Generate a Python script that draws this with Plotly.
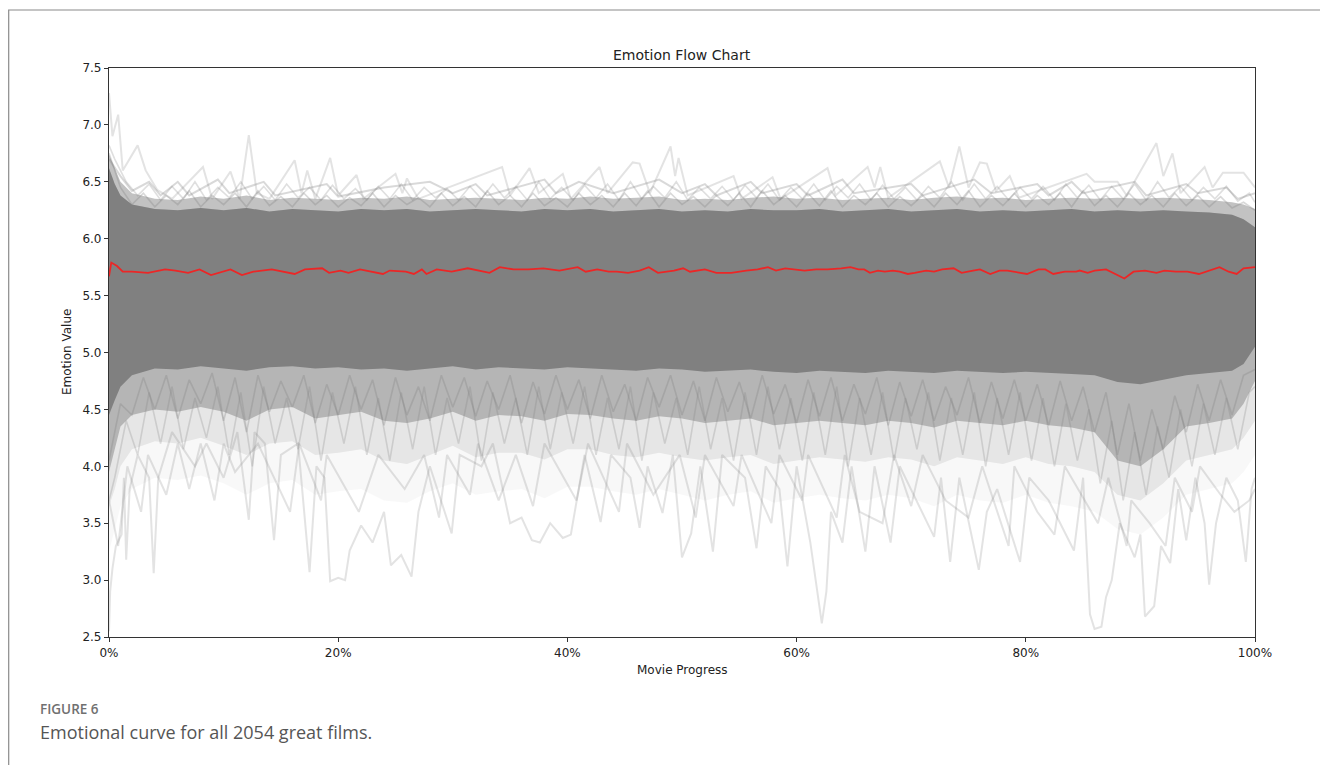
import plotly.graph_objects as go

# ---------------- data ----------------
env_x = [0, 0.5, 1, 2, 4, 6, 8, 10, 12, 14, 16, 18, 20, 22, 24, 26, 28, 30, 32, 34, 36, 38, 40,
         42, 44, 46, 48, 50, 52, 54, 56, 58, 60, 62, 64, 66, 68, 70, 72, 74, 76, 78, 80,
         82, 84, 86, 88, 90, 92, 94, 96, 98, 99, 100]

# solid core of the grey mass
up_core = [6.62, 6.48, 6.38,
           6.30, 6.26, 6.25, 6.27, 6.25, 6.27, 6.24, 6.26, 6.25, 6.24,
           6.26, 6.25, 6.26, 6.24, 6.25, 6.26, 6.25, 6.24, 6.26, 6.25,
           6.26, 6.24, 6.25, 6.26, 6.24, 6.25, 6.24, 6.26, 6.25, 6.25,
           6.26, 6.24, 6.25, 6.26, 6.24, 6.25, 6.26, 6.24, 6.25, 6.24,
           6.25, 6.26, 6.24, 6.25, 6.24, 6.25, 6.24, 6.23, 6.21,
           6.17, 6.10]
lo_core = [4.45, 4.58, 4.70,
           4.80, 4.86, 4.85, 4.88, 4.86, 4.84, 4.87, 4.88, 4.86, 4.87,
           4.85, 4.86, 4.84, 4.86, 4.88, 4.85, 4.87, 4.86, 4.85, 4.87,
           4.86, 4.85, 4.84, 4.86, 4.85, 4.83, 4.84, 4.85, 4.83, 4.82,
           4.84, 4.83, 4.82, 4.84, 4.83, 4.82, 4.84, 4.83, 4.82, 4.83,
           4.82, 4.81, 4.80, 4.74, 4.72, 4.76, 4.80, 4.82, 4.84,
           4.90, 5.05]
# denser fringe
up_mid = [6.74, 6.62, 6.50,
          6.40, 6.35, 6.34, 6.37, 6.35, 6.38, 6.34, 6.36, 6.35, 6.34,
          6.36, 6.35, 6.37, 6.34, 6.35, 6.36, 6.35, 6.34, 6.36, 6.35,
          6.37, 6.35, 6.36, 6.37, 6.34, 6.35, 6.34, 6.36, 6.37, 6.35,
          6.36, 6.34, 6.35, 6.36, 6.34, 6.36, 6.37, 6.35, 6.36, 6.34,
          6.35, 6.36, 6.35, 6.36, 6.35, 6.36, 6.35, 6.34, 6.32,
          6.30, 6.26]
lo_mid = [3.95, 4.15, 4.35,
          4.45, 4.50, 4.48, 4.52, 4.48, 4.40, 4.50, 4.52, 4.42, 4.45,
          4.48, 4.40, 4.38, 4.42, 4.48, 4.40, 4.45, 4.44, 4.40, 4.46,
          4.45, 4.42, 4.40, 4.44, 4.42, 4.38, 4.40, 4.42, 4.36, 4.38,
          4.40, 4.38, 4.36, 4.40, 4.38, 4.34, 4.40, 4.38, 4.36, 4.40,
          4.36, 4.34, 4.30, 4.05, 4.00, 4.15, 4.35, 4.38, 4.42,
          4.55, 4.75]
# faint haze below the mass
lo_outer = [3.65, 3.80, 4.00,
            4.15, 4.22, 4.20, 4.25, 4.18, 4.10, 4.20, 4.22, 4.10, 4.12,
            4.15, 4.05, 4.02, 4.10, 4.18, 4.08, 4.12, 4.12, 4.06, 4.15,
            4.15, 4.10, 4.08, 4.12, 4.08, 4.05, 4.08, 4.10, 4.02, 4.05,
            4.08, 4.06, 4.04, 4.08, 4.06, 4.00, 4.08, 4.05, 4.02, 4.08,
            4.02, 4.00, 3.95, 3.75, 3.70, 3.85, 4.05, 4.10, 4.15,
            4.25, 4.40]
lo_far = [3.25, 3.45, 3.65,
          3.80, 3.90, 3.88, 3.92, 3.85, 3.75, 3.85, 3.88, 3.75, 3.78,
          3.80, 3.70, 3.68, 3.78, 3.85, 3.75, 3.78, 3.80, 3.72, 3.82,
          3.82, 3.78, 3.75, 3.80, 3.75, 3.70, 3.75, 3.78, 3.68, 3.72,
          3.75, 3.72, 3.70, 3.75, 3.72, 3.65, 3.75, 3.70, 3.68, 3.75,
          3.68, 3.65, 3.60, 3.45, 3.40, 3.55, 3.75, 3.80, 3.85,
          3.95, 4.10]

# jagged fringe curves, set A (every 1 %)
fringe_a_x = list(range(0, 101))
fringe_a_lo = [4.05, 4.55, 4.45, 4.78, 4.50, 4.80, 4.42, 4.76, 4.55, 4.82, 4.40,
               4.78, 4.30, 4.80, 4.48, 4.75, 4.52, 4.80, 4.38, 4.72, 4.45,
               4.80, 4.50, 4.76, 4.36, 4.78, 4.45, 4.70, 4.40, 4.80, 4.52,
               4.78, 4.44, 4.75, 4.50, 4.80, 4.38, 4.74, 4.46, 4.80, 4.50,
               4.76, 4.42, 4.80, 4.48, 4.72, 4.40, 4.78, 4.52, 4.80, 4.45,
               4.75, 4.40, 4.78, 4.48, 4.74, 4.42, 4.80, 4.46, 4.72, 4.38,
               4.76, 4.44, 4.78, 4.40, 4.72, 4.46, 4.78, 4.36, 4.74, 4.44,
               4.76, 4.40, 4.70, 4.45, 4.78, 4.38, 4.74, 4.42, 4.76, 4.40,
               4.72, 4.36, 4.75, 4.40, 4.70, 4.30, 4.65, 4.10, 4.55, 4.05,
               4.50, 4.15, 4.62, 4.30, 4.72, 4.40, 4.76, 4.45, 4.80, 4.85]
fringe_a_up = [6.75, 6.45, 6.30, 6.40, 6.28, 6.38, 6.30, 6.42, 6.28, 6.38, 6.30,
               6.40, 6.28, 6.42, 6.29, 6.37, 6.28, 6.40, 6.30, 6.38, 6.28,
               6.36, 6.29, 6.40, 6.28, 6.38, 6.30, 6.36, 6.28, 6.40, 6.29,
               6.37, 6.28, 6.42, 6.30, 6.38, 6.28, 6.40, 6.29, 6.36, 6.28,
               6.40, 6.30, 6.38, 6.28, 6.40, 6.29, 6.42, 6.28, 6.40, 6.30,
               6.37, 6.28, 6.38, 6.29, 6.40, 6.28, 6.42, 6.30, 6.38, 6.28,
               6.40, 6.29, 6.42, 6.28, 6.38, 6.30, 6.40, 6.28, 6.37, 6.29,
               6.38, 6.28, 6.40, 6.30, 6.42, 6.28, 6.38, 6.29, 6.40, 6.28,
               6.38, 6.30, 6.40, 6.28, 6.42, 6.29, 6.38, 6.28, 6.40, 6.30,
               6.38, 6.28, 6.40, 6.29, 6.38, 6.28, 6.37, 6.27, 6.32, 6.25]

# jagged fringe curves, set B (offset by half a percent)
fringe_b_x = [0, 0.5] + [i + 0.5 for i in range(1, 100)] + [100]
fringe_b_lo = [3.70, 3.90, 4.40, 4.10, 4.65, 4.20, 4.70, 4.15, 4.60, 4.25,
               4.70, 4.10, 4.65, 4.00, 4.70, 4.20, 4.60, 4.15, 4.70, 4.05,
               4.65, 4.20, 4.70, 4.10, 4.60, 4.05, 4.65, 4.15, 4.70, 4.10,
               4.60, 4.20, 4.70, 4.05, 4.65, 4.20, 4.60, 4.10, 4.70, 4.15,
               4.65, 4.20, 4.70, 4.10, 4.60, 4.15, 4.70, 4.05, 4.65, 4.20,
               4.60, 4.10, 4.70, 4.15, 4.60, 4.05, 4.65, 4.10, 4.70, 4.15,
               4.60, 4.05, 4.65, 4.10, 4.70, 4.00, 4.60, 4.10, 4.65, 4.05,
               4.60, 4.15, 4.65, 4.05, 4.60, 4.10, 4.65, 4.00, 4.60, 4.10,
               4.65, 4.05, 4.60, 4.00, 4.55, 4.05, 4.50, 3.85, 4.40, 3.70,
               4.30, 3.75, 4.35, 3.90, 4.50, 4.00, 4.55, 4.10, 4.60, 4.15,
               4.65, 4.70]
fringe_b_up = [6.82, 6.70, 6.50, 6.38, 6.48, 6.34, 6.46, 6.35, 6.50, 6.34,
               6.45, 6.36, 6.50, 6.35, 6.46, 6.34, 6.48, 6.36, 6.45, 6.34,
               6.47, 6.35, 6.44, 6.34, 6.46, 6.35, 6.48, 6.34, 6.45, 6.36,
               6.44, 6.34, 6.46, 6.35, 6.48, 6.36, 6.46, 6.34, 6.50, 6.35,
               6.45, 6.34, 6.47, 6.36, 6.48, 6.34, 6.50, 6.35, 6.46, 6.36,
               6.50, 6.34, 6.45, 6.35, 6.46, 6.34, 6.47, 6.36, 6.48, 6.34,
               6.45, 6.35, 6.48, 6.34, 6.46, 6.36, 6.48, 6.34, 6.47, 6.35,
               6.45, 6.34, 6.46, 6.36, 6.50, 6.34, 6.48, 6.35, 6.46, 6.34,
               6.45, 6.35, 6.46, 6.34, 6.48, 6.36, 6.47, 6.34, 6.46, 6.35,
               6.48, 6.34, 6.50, 6.36, 6.46, 6.34, 6.45, 6.35, 6.46, 6.33,
               6.40, 6.32]

# individual outlying film curves (light grey)
peak_a_x = [0, 0.3, 0.8, 1.2, 2.5, 3.2, 4.2, 5.5, 8.2, 9.0, 10.6, 11.4, 12.2, 12.9, 14.0, 16.2, 16.8,
            17.3, 18.0, 19.3, 20.0, 21.6, 22.2, 25.0, 25.6, 26.0, 27.0, 34.3, 35.0, 36.7, 37.5,
            39.6, 40.3, 42.8, 43.5, 45.7, 46.3, 47.2, 49.0, 49.4, 49.7, 50.5, 54.5, 55.2, 57.9,
            58.6, 62.7, 63.4, 66.2, 66.8, 67.3, 68.0, 72.5, 73.3, 74.2, 75.0, 76.0, 76.6, 77.4,
            78.6, 79.4, 85.3, 86.0, 88.0, 88.8, 91.4, 92.0, 92.8, 93.5, 95.6, 96.3, 97.2, 99.0,
            99.6, 100]
peak_a_y = [7.28, 6.90, 7.09, 6.60, 6.82, 6.60, 6.43, 6.35, 6.63, 6.35, 6.59, 6.35, 6.91, 6.40, 6.35,
            6.69, 6.40, 6.60, 6.35, 6.71, 6.38, 6.56, 6.35, 6.57, 6.40, 6.53, 6.35, 6.63, 6.38,
            6.62, 6.40, 6.57, 6.35, 6.63, 6.40, 6.67, 6.66, 6.40, 6.81, 6.55, 6.71, 6.38, 6.55,
            6.35, 6.54, 6.35, 6.62, 6.38, 6.63, 6.45, 6.63, 6.36, 6.68, 6.45, 6.81, 6.45, 6.67,
            6.66, 6.42, 6.55, 6.36, 6.57, 6.50, 6.50, 6.38, 6.84, 6.55, 6.75, 6.40, 6.63, 6.45,
            6.58, 6.58, 6.50, 6.45]

peak_b_x = [0, 1, 2, 3.5, 4.5, 6, 7, 9.5, 10.5, 13.5, 14.5, 19, 20, 24, 28, 30, 32, 33, 38, 39, 41,
            44, 48, 50, 52, 53, 56, 57, 60, 61, 64, 65, 70, 71, 75.5, 77, 81, 82, 84, 85, 89.5,
            90.5, 94, 95, 97.5, 98.5, 100]
peak_b_y = [6.70, 6.55, 6.42, 6.50, 6.38, 6.50, 6.38, 6.52, 6.40, 6.50, 6.38, 6.48, 6.37, 6.45,
            6.50, 6.40, 6.48, 6.38, 6.52, 6.40, 6.50, 6.40, 6.52, 6.40, 6.48, 6.38, 6.50, 6.40,
            6.48, 6.38, 6.52, 6.40, 6.48, 6.38, 6.52, 6.40, 6.48, 6.38, 6.50, 6.40, 6.50, 6.38,
            6.48, 6.40, 6.45, 6.35, 6.40]

dip_a_x = [0, 0.1, 0.3, 0.6, 1.1, 1.3, 1.5, 1.8, 2.5, 3.5, 3.9, 4.3, 5.5, 7.5, 8.5, 10, 11.2, 12.2,
           12.7, 13.6, 14.4, 15.0, 16.5, 17.5, 18.1, 18.8, 19.3, 20.0, 20.6, 21.0, 22.0, 23.0,
           24.0, 24.6, 25.5, 26.4, 27.0, 28.0, 29.9, 30.6, 32.5, 33.5, 35.0, 36.0, 36.9, 37.6,
           38.5, 39.6, 40.3, 41.5, 42.9, 43.8, 45.5, 46.3, 47.0, 48.3, 49.2, 50.0, 50.8, 51.6,
           52.7, 53.5, 55.5, 56.5, 57.3, 58.5, 59.2, 60.0, 61.2, 61.8, 62.2, 62.6, 63.0, 64.0,
           64.8, 66.0, 66.8, 68.2, 69.0, 72.0, 72.6, 73.4, 74.2, 75.9, 76.6, 77.5, 79.5, 80.3,
           82.0, 84.2, 85.0, 85.6, 86.0, 86.6, 87.0, 87.5, 88.2, 89.5, 90.0, 90.4, 91.2, 91.8,
           92.6, 93.3, 94.0, 94.8, 95.6, 96.0, 96.6, 97.5, 98.5, 99.2, 99.7, 100]
dip_a_y = [2.55, 2.90, 3.10, 3.30, 3.40, 3.90, 3.18, 3.80, 4.10, 3.90, 3.06, 3.90, 4.30, 4.00, 4.20,
           3.90, 4.30, 3.53, 4.30, 4.20, 3.35, 4.10, 4.20, 3.07, 4.00, 3.90, 2.99, 3.02, 3.00,
           3.26, 3.48, 3.33, 3.60, 3.13, 3.22, 3.03, 3.60, 4.00, 3.41, 4.10, 4.00, 4.20, 3.50,
           3.55, 3.35, 3.33, 3.50, 3.37, 3.40, 4.10, 3.51, 4.10, 3.90, 3.46, 4.00, 3.59, 4.10,
           3.20, 3.41, 4.00, 3.25, 4.10, 3.90, 3.28, 4.00, 3.80, 3.12, 4.00, 3.33, 2.90, 2.62,
           2.90, 3.60, 3.33, 4.00, 3.25, 4.00, 3.33, 4.00, 3.38, 3.90, 3.16, 3.90, 3.09, 3.60,
           3.80, 3.16, 3.90, 3.70, 3.26, 3.90, 2.70, 2.57, 2.59, 2.85, 3.00, 3.50, 3.20, 3.40,
           2.68, 2.77, 3.30, 3.15, 3.80, 3.35, 3.90, 3.50, 2.96, 3.50, 3.90, 3.70, 3.16, 3.80,
           3.90]

dip_b_x = [0, 0.8, 1.6, 2.8, 3.4, 5.0, 6.0, 7.0, 8.0, 9.2, 10.0, 11.0, 13.0, 15.8, 16.6, 18.5, 19.0,
           21.8, 23.5, 25.8, 27.5, 28.8, 29.5, 31.5, 32.2, 34.0, 35.5, 37.0, 38.0, 40.8, 41.8,
           44.5, 45.2, 47.5, 49.8, 51.2, 52.0, 54.5, 55.2, 57.8, 58.5, 60.5, 61.0, 63.5, 64.2,
           65.5, 67.5, 68.5, 70.0, 71.0, 73.0, 75.0, 76.2, 78.5, 79.0, 81.0, 82.5, 83.4, 86.3,
           87.2, 88.8, 89.2, 90.8, 92.2, 93.0, 94.5, 95.2, 97.0, 98.2, 99.5, 100]
dip_b_y = [3.70, 3.30, 4.00, 3.60, 4.10, 3.75, 4.20, 3.80, 4.20, 3.70, 4.20, 3.95, 4.20, 3.60, 4.20,
           3.70, 4.10, 3.60, 4.10, 3.80, 4.10, 3.55, 4.10, 3.75, 4.20, 3.70, 4.10, 3.65, 4.20,
           3.70, 4.20, 3.60, 4.20, 3.75, 4.10, 3.55, 4.10, 3.65, 4.10, 3.50, 4.10, 3.70, 4.10,
           3.55, 4.10, 3.60, 3.50, 4.10, 3.65, 4.10, 3.70, 3.55, 4.00, 3.30, 4.00, 3.60, 3.40,
           4.00, 3.50, 3.90, 3.30, 3.70, 3.50, 3.30, 3.90, 3.60, 4.00, 3.75, 3.60, 3.70, 3.80]

# mean emotion curve (red)
mean_x = [0, 0.2, 0.7, 1.2, 2.0, 3.4, 4.9, 5.8, 6.9, 7.9, 8.9, 9.2, 10.6, 11.6, 12.6, 14.2, 16.2,
          17.1, 18.6, 19.2, 20.2, 20.9, 21.9, 23.9, 24.5, 25.9, 26.6, 27.3, 27.7, 28.6, 29.9,
          31.3, 32.6, 33.2, 34.1, 35.3, 36.6, 37.9, 39.3, 40.9, 41.6, 42.6, 43.6, 44.3, 45.3,
          46.3, 47.1, 47.9, 49.3, 50.1, 50.7, 52.0, 53.0, 54.3, 55.6, 56.6, 57.5, 58.2, 59.0,
          59.7, 60.7, 61.7, 62.7, 63.9, 64.7, 65.4, 65.9, 66.4, 67.1, 67.7, 68.4, 69.0, 69.7,
          70.3, 71.3, 72.0, 72.7, 73.7, 74.4, 75.4, 76.0, 76.9, 77.7, 78.4, 79.4, 80.1, 81.1,
          81.7, 82.4, 83.4, 84.4, 84.7, 85.4, 86.0, 87.0, 88.6, 89.4, 90.4, 91.4, 92.1, 93.1,
          94.1, 95.1, 96.1, 96.9, 97.7, 98.4, 99.0, 100]
mean_y = [5.67, 5.79, 5.76, 5.71, 5.71, 5.70, 5.73, 5.72, 5.70, 5.73, 5.68, 5.69, 5.73, 5.68, 5.71,
          5.73, 5.69, 5.73, 5.74, 5.70, 5.72, 5.70, 5.73, 5.69, 5.72, 5.71, 5.69, 5.73, 5.69,
          5.73, 5.71, 5.74, 5.71, 5.70, 5.75, 5.73, 5.73, 5.74, 5.72, 5.75, 5.71, 5.73, 5.71,
          5.71, 5.70, 5.72, 5.75, 5.70, 5.72, 5.74, 5.71, 5.73, 5.70, 5.70, 5.72, 5.73, 5.75,
          5.72, 5.74, 5.73, 5.72, 5.73, 5.73, 5.74, 5.75, 5.73, 5.73, 5.70, 5.72, 5.71, 5.72,
          5.71, 5.69, 5.70, 5.72, 5.71, 5.73, 5.74, 5.70, 5.72, 5.73, 5.69, 5.72, 5.72, 5.70,
          5.69, 5.73, 5.73, 5.69, 5.71, 5.71, 5.72, 5.70, 5.72, 5.73, 5.65, 5.71, 5.72, 5.70,
          5.72, 5.71, 5.71, 5.69, 5.72, 5.75, 5.71, 5.69, 5.74, 5.75]

x_tick_vals = [0, 20, 40, 60, 80, 100]
x_tick_text = ["0%", "20%", "40%", "60%", "80%", "100%"]
y_tick_vals = [2.5, 3.0, 3.5, 4.0, 4.5, 5.0, 5.5, 6.0, 6.5, 7.0, 7.5]

# ---------------- figure ----------------
GREY = "128,128,128"
fig = go.Figure()


def curve(xs, ys, alpha, width=2.0):
    fig.add_trace(go.Scatter(x=xs, y=ys, mode="lines",
                             line=dict(color=f"rgba({GREY},{alpha})", width=width),
                             hoverinfo="skip", showlegend=False))


def band(xs, lower, upper, alpha):
    fig.add_trace(go.Scatter(x=list(xs) + list(xs)[::-1], y=list(upper) + list(lower)[::-1],
                             mode="lines", fill="toself", line=dict(width=0),
                             fillcolor=f"rgba({GREY},{alpha})",
                             hoverinfo="skip", showlegend=False))


band(env_x, lo_far, up_core, 0.06)
band(env_x, lo_outer, up_core, 0.15)
band(env_x, lo_mid, up_mid, 0.48)

curve(dip_a_x, dip_a_y, 0.22)
curve(dip_b_x, dip_b_y, 0.22)
curve(peak_a_x, peak_a_y, 0.22)
curve(peak_b_x, peak_b_y, 0.30)
curve(fringe_b_x, fringe_b_lo, 0.25, 1.6)
curve(fringe_b_x, fringe_b_up, 0.25, 1.6)
curve(fringe_a_x, fringe_a_lo, 0.30, 1.6)
curve(fringe_a_x, fringe_a_up, 0.30, 1.6)

band(env_x, lo_core, up_core, 1.0)

fig.add_trace(go.Scatter(x=mean_x, y=mean_y, mode="lines",
                         line=dict(color="rgb(236,38,38)", width=1.8),
                         hoverinfo="skip", showlegend=False))

axis_font = dict(family="DejaVu Sans", size=12, color="#222222")
fig.update_xaxes(range=[0, 100], tickvals=x_tick_vals, ticktext=x_tick_text,
                 showgrid=False, zeroline=False, showline=True, mirror=True,
                 linecolor="#333333", linewidth=1.2, ticks="outside", ticklen=4,
                 tickcolor="#333333", tickfont=axis_font)
fig.update_yaxes(range=[2.5, 7.5], tickvals=y_tick_vals, tickformat=".1f",
                 showgrid=False, zeroline=False, showline=True, mirror=True,
                 linecolor="#333333", linewidth=1.2, ticks="outside", ticklen=4,
                 tickcolor="#333333", tickfont=axis_font)

# page (screenshot) coordinates of the plot area; the page body adds an 8 px offset
OFF = 8
PL, PR, PT, PB = 109, 1255, 68, 637
W, H = 1328 - OFF, 765 - OFF


def px(x):
    return (x - PL) / (PR - PL)


def py(y):
    return (PB - y) / (PB - PT)


annotations = [
    dict(text="Emotion Flow Chart", x=0.5, y=py(55), xref="paper", yref="paper",
         showarrow=False, xanchor="center", yanchor="middle",
         font=dict(family="DejaVu Sans", size=14, color="#222222")),
    dict(text="Movie Progress", x=0.5, y=py(670), xref="paper", yref="paper",
         showarrow=False, xanchor="center", yanchor="middle",
         font=dict(family="DejaVu Sans", size=12, color="#222222")),
    dict(text="Emotion Value", x=px(67), y=py(352), xref="paper", yref="paper",
         showarrow=False, xanchor="center", yanchor="middle", textangle=-90,
         font=dict(family="DejaVu Sans", size=12, color="#222222")),
    dict(text="FIGURE 6", x=px(38), y=py(709), xref="paper", yref="paper",
         showarrow=False, xanchor="left", yanchor="middle",
         font=dict(family="Open Sans", size=13.5, color="#707070", weight=600)),
    dict(text="Emotional curve for all 2054 great films.", x=px(38), y=py(732),
         xref="paper", yref="paper", showarrow=False, xanchor="left", yanchor="middle",
         font=dict(family="Open Sans", size=18, color="#555555")),
]

shapes = [dict(type="rect", xref="paper", yref="paper",
               x0=px(8.7), x1=px(1326.5), y0=py(800), y1=py(10),
               line=dict(color="#8a8a8a", width=1.2), fillcolor="rgba(0,0,0,0)", layer="below")]

fig.update_layout(width=W, height=H, autosize=False,
                  margin=dict(l=PL - OFF, r=W - (PR - OFF), t=PT - OFF, b=H - (PB - OFF), pad=0),
                  paper_bgcolor="white", plot_bgcolor="white",
                  annotations=annotations, shapes=shapes, showlegend=False)

fig.write_html("out.html", config={"displayModeBar": False})
